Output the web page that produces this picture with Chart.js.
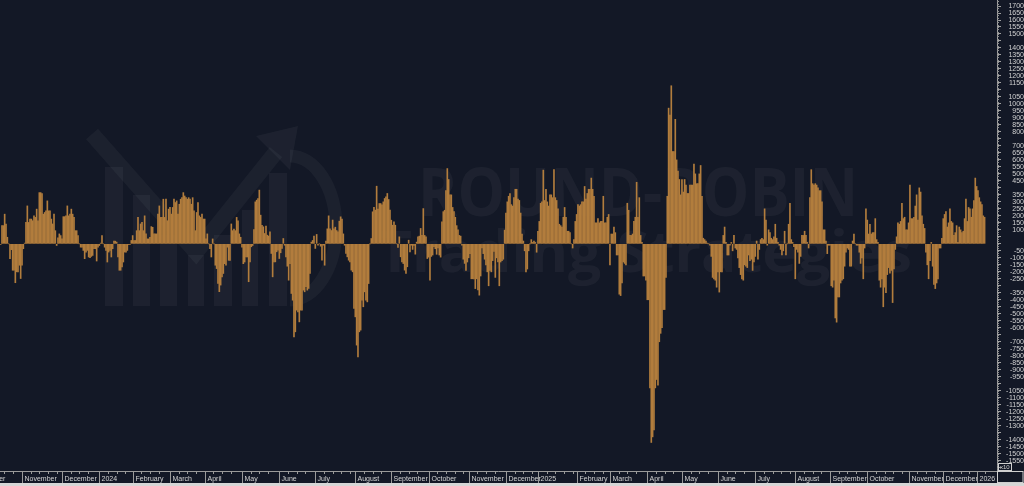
<!DOCTYPE html>
<html lang="en">
<head>
<meta charset="UTF-8" />
<title>Oscillator</title>
<script src="https://cdn.jsdelivr.net/npm/chart.js"></script>
<style>
	html, body { margin: 0; padding: 0; background: #131826; overflow: hidden; }
	canvas { display: block; }
</style>
</head>
<body>
<canvas id="chart" width="1024" height="486"></canvas>
<script>
// daily values, read left to right off the picture (Oct 2023 .. Jan 2026)
const part1 = [
	-5, 130, 130, 212, 142, 47, 0, -106, -42, -189,
	-189, -278, -200, -200, -153, -248, -153, -35, 5, 153,
	271, 153, 177, 177, 165, 200, 189, 248, 165, 366,
	366, 359, 212, 224, 236, 307, 236, 236, 177, 142,
	212, 94, -12, 42, 71, 59, 35, 194, 194, 200,
	271, 200, 212, 248, 212, 189, 94, 94, 59, 0,
	-24, -24, -47, -106, -59, -47, -94, -99, -90, -83,
	-35, -35, -123, -24, -12, 5, 59, 0, -24, -47,
	-130, -59, -47, -94, -35, 19, 19, 12, -94, -189,
	-189, -165, -130, -59, -59, -47, -5, -5, 24, 59,
	24, 24, 94, 189, 94, 142, 153, 94, 200, 71,
	35, 35, 47, 123, 118, 71, 71, 71, 212, 271,
	189, 189, 319, 189, 319, 165, 248, 260, 212, 260,
	319, 295, 307, 212, 283, 319, 330, 366, 342, 330,
	319, 330, 319, 283, 330, 236, 94, 224, 295, 200,
	189, 212, 177, 177, 35, 71, 0, -35, -94, 35,
	0, -153, -177, -283, -342, -295, -236, -212, -142, -153,
	-24, -118, -118, 142, 94, 106, 94, 189, 165, 71,
	47, -24, -142, -130, -94, -94, -271, -130
];
const part2 = [
	-21, -12, 102, 300, 312, 324, 384, 205, 133, 122,
	74, 126, 62, 55, 86, -69, -236, -129, -129, -57,
	-45, -105, -64, -33, 38, -10, -93, -160, -260, -141,
	-355, -403, -665, -629, -474, -486, -558, -474, -474, -331,
	-343, -307, -331, -319, -212, 12, 24, 55, -33, 67,
	-10, 0, -17, -117, -10, -153, 19, 107, 200, 107,
	95, 170, 107, 119, 95, 86, 162, 193, 176, 71,
	-10, -69, -93, -117, -129, -188, -200, -462, -522, -724,
	-808, -629, -617, -403, -450, -343, -403, -415, -284, 0,
	38, 229, 260, 241, 412, 248, 288, 288, 279, 300,
	324, 336, 360, 317, 241, 169, 133, 157, 133, 0,
	-26, 50, -93, -129, -141, -188, -212, -164
];
const part3 = [
	26, -57, -10, -40, -12, -74, 12, 50, 55, 110,
	60, 252, 60, 50, -105, -95, -260, -90, -80, -20,
	-35, -75, -30, -80, -95, 157, 230, 240, 380, 538,
	460, 350, 350, 260, 230, 190, 130, 100, 60, 55,
	-10, -110, -140, -190, -130, -100, -70, -250, -250, -250,
	-320, -250, -330, -367, -230, -30, -70, -110, -150, -200,
	-300, -190, -200, -120, -55, -240, -100, -130, -300, -130,
	-120, -110, 98, 220, 300, 340, 360, 280, 270, 330,
	390, 390, 320, 310, 220, 70, 20, -50, -200, -180,
	-50, 0, 30, 10, 20, 10, -60, 90, 160, 290,
	300, 527, 310, 390, 300, 270, 350, 350, 330, 530,
	330, 310, 250, 140, 130, 120, 190, 260, 190, 90,
	90, 80, 0, -30
];
const part4 = [
	30, 160, 210, 280, 270, 280, 300, 300, 410, 320,
	360, 390, 390, 470, 390, 340, 150, 150, 180, 150,
	160, 160, 340, 150, 150, 190, 210, -150, 70, 70,
	120, 80, -80, -80, -360, -370, -280, -130, -140, -150,
	290, 240, 60, 60, 70, 160, 190, 440, 190, 330,
	60, 10, -230, -230, -260, -400, -400, -1030, -1420, -1380,
	-1330, -1030, -970, -1010, -700, -640, -600, -470, -470, -240,
	340, 970, 920, 1130, 660, 660, 890, 600, 520, 460,
	350, 460, 370, 460, 420, 360, 360, 420, 420, 420,
	570, 500, 430, 430, 500, 560, 340, 40, 30, 20,
	5, 0, -10, -90, -240, -250, -260, -310, -200
];
const part5 = [
	-345, -200, -200, 60, 120, 10, -80, -80, -10, 10,
	-50, 60, -30, -40, -100, -170, -220, -250, -260, -150,
	-160, -170, -80, -120, -110, -190, -130, -90, 20, -110,
	-40, 30, 40, 30, 250, 170, -10, 100, 80, 40,
	30, 50, 140, 40, 10, -10, -40, -80, -50, 90,
	-80, 0, 140, 290, 30, 10, -20, -250, -40, -60,
	-140, -90, 60, 60, 90, 60, 10, -30, 330, 530,
	430, 420, 430, 420, 400, 380, 380, 300, 100, 100,
	20, -70, -10, -10, -300, -310, -260, -530, -560, -380,
	-380, -280, -260, -250, -160, -60, -30, -40, -160, -160,
	20
];
const part6 = [
	70, 0, -10, -10, -60, -140, -100, -250, -30, 250,
	170, 70, 140, 70, 80, 80, 180, 30, 10, -260,
	-310, -250, -450, -310, -350, -220, -170, -210, -190, -420,
	-180, -40, 50, 150, 140, 160, 290, 180, 190, 100,
	100, 150, 420, 180, 180, 190, 270, 350, 170, 400,
	370, 200, 140, 110, -60, -150, -250, -120, 10, -160,
	-290, -320, -280, -250, -30, -30, 40, 180, 210, 230,
	120, 150, 250, 160, 150, 60, 80, 130, 10, 120,
	100, 80, 90, 180, 320, 160, 260, 250, 190, 250,
	310, 470, 410, 380, 330, 300, 280, 200, 190
];
const values = [].concat(part1, part2, part3, part4, part5, part6);

// month labels on the bottom axis and the bar index where each one starts
const monthNames = ["October", "November", "December", "2024", "February", "March", "April", "May", "June", "July", "August", "September", "October", "November", "December", "2025", "February", "March", "April", "May", "June", "July", "August", "September", "October", "November", "December", "2026"];
const monthStart = [-17, 16, 46, 74, 99, 127, 153, 181, 209, 236, 266, 293, 321, 351, 379, 403, 432, 457, 485, 511, 538, 566, 596, 622, 650, 681, 707, 732];

// price axis labels that are printed (the others only get a tick)
const yLabels = [1700, 1650, 1600, 1550, 1500, 1400, 1350, 1300, 1250, 1200, 1150, 1050, 1000, 950, 900, 850, 800, 700, 650, 600, 550, 500, 450, 350, 300, 250, 200, 150, 100,
	-50, -100, -150, -200, -250, -350, -400, -450, -500, -550, -600, -700, -750, -800, -850, -900, -950, -1050, -1100, -1150, -1200, -1250, -1300, -1400, -1450, -1500, -1550];

const BG = "#131826";
const FONT = '"Liberation Sans", Arial, sans-serif';

function fitText(ctx, text, font, x0, x1, base) {
	ctx.font = font;
	const w = ctx.measureText(text).width;
	ctx.save();
	ctx.translate(x0, base);
	ctx.scale((x1 - x0) / w, 1);
	ctx.fillText(text, 0, 0);
	ctx.restore();
}

const watermark = {
	id: "watermark",
	beforeDatasetsDraw(chart) {
		const ctx = chart.ctx;
		ctx.save();
		ctx.fillStyle = "rgba(255,255,255,0.042)";
		fitText(ctx, "ROUND-ROBIN", 'bold 66px "Open Sans"', 418, 858, 216);
		fitText(ctx, "Trading Strategies", 'bold 58px "Open Sans"', 378, 912, 272);
		// logo: bars, rising arrow and the curved stroke
		[[105, 167, 18, 139], [133, 195, 17, 111], [160, 235, 17, 71], [188, 255, 16, 51],
		 [214, 235, 18, 71], [242, 210, 16, 96], [269, 173, 18, 133]].forEach(r => ctx.fillRect(r[0], r[1], r[2], r[3]));
		ctx.strokeStyle = "rgba(255,255,255,0.04)";
		ctx.lineWidth = 16;
		ctx.beginPath();
		ctx.moveTo(92, 134);
		ctx.lineTo(196, 252);
		ctx.lineTo(276, 152);
		ctx.stroke();
		ctx.beginPath();
		ctx.moveTo(298, 126);
		ctx.lineTo(256, 136);
		ctx.lineTo(290, 170);
		ctx.closePath();
		ctx.fill();
		ctx.lineWidth = 13;
		ctx.beginPath();
		ctx.ellipse(290, 228, 46, 72, 0, -Math.PI / 2, Math.PI / 2);
		ctx.stroke();
		ctx.restore();
	}
};

const axisPlugin = {
	id: "axisPlugin",
	afterDraw(chart) {
		const { ctx, chartArea: a, scales: { x, y } } = chart;
		const top = a.bottom;
		ctx.save();
		// minor ruler marks on the price axis
		ctx.strokeStyle = "#8e8e8e";
		ctx.lineWidth = 1;
		ctx.beginPath();
		for (let v = -1600; v <= 1740; v += 50 / 3) {
			const py = Math.round(y.getPixelForValue(v)) + 0.5;
			if (py > top) continue;
			ctx.moveTo(y.left, py);
			ctx.lineTo(y.left + 2, py);
		}
		ctx.stroke();

		// date axis strip
		ctx.fillStyle = BG;
		ctx.fillRect(0, top, chart.width, 12);
		ctx.fillStyle = "#d6d6d6";
		ctx.fillRect(0, top + 12, chart.width, chart.height - top - 12);
		ctx.strokeStyle = "#9a9a9a";
		ctx.beginPath();
		ctx.moveTo(0, top + 0.5);
		ctx.lineTo(a.right, top + 0.5);
		ctx.stroke();

		ctx.font = "7px " + FONT;
		ctx.fillStyle = "#d2d2d2";
		ctx.textBaseline = "alphabetic";
		ctx.beginPath();
		ctx.rect(0, top, a.right, 12);
		ctx.clip();
		monthStart.forEach((m, k) => {
			const px = Math.round(x.getPixelForValue(m)) + 0.5;
			const next = k + 1 < monthStart.length ? monthStart[k + 1] : 747;
			ctx.beginPath();
			ctx.moveTo(px, top);
			ctx.lineTo(px, top + 12);
			for (let w = m + 6.5; w < next - 2; w += 6.5) {
				const wx = Math.round(x.getPixelForValue(w)) + 0.5;
				ctx.moveTo(wx, top);
				ctx.lineTo(wx, top + 3);
			}
			ctx.stroke();
			ctx.fillText(monthNames[k], px + 2, top + 10);
		});
		ctx.restore();

		// corner boxes
		ctx.save();
		ctx.fillStyle = BG;
		ctx.fillRect(a.right, top, chart.width - a.right, 12);
		ctx.strokeStyle = "#cfcfcf";
		ctx.strokeRect(a.right + 0.5, top + 0.5, chart.width - a.right - 1.5, 11);
		ctx.strokeRect(a.right + 1.5, top - 7.5, 13, 7);
		ctx.font = "6px " + FONT;
		ctx.fillStyle = "#d2d2d2";
		ctx.fillText("x10", a.right + 3, top - 2);
		ctx.restore();
	}
};

new Chart(document.getElementById("chart"), {
	type: "bar",
	data: {
		datasets: [
			{
				data: values.map((v, i) => ({ x: i, y: v })),
				backgroundColor: "#b27d3d",
				borderWidth: 0,
				barThickness: 1,
			},
		],
	},
	options: {
		responsive: false,
		animation: false,
		layout: { padding: { left: 0, right: 0, top: 0, bottom: 15 } },
		plugins: {
			legend: { display: false },
			tooltip: { enabled: false },
		},
		scales: {
			x: { type: "linear", display: false, offset: false, grid: { offset: false }, min: -0.5, max: 747.3 },
			y: {
				position: "right",
				min: -1624,
				max: 1743,
				afterBuildTicks(s) {
					const t = [];
					for (let v = -1600; v <= 1700; v += 50) t.push({ value: v });
					s.ticks = t;
				},
				afterFit(s) {
					s.width = 27;
					s.paddingTop = 0;
					s.paddingBottom = 0;
				},
				ticks: {
					autoSkip: false,
					crossAlign: "far",
					padding: 3,
					color: "#d2d2d2",
					font: { family: FONT, size: 7 },
					callback: (v) => (yLabels.includes(v) ? String(v) : ""),
				},
				grid: { drawOnChartArea: false, drawTicks: true, tickLength: 4, color: "#a0a0a0" },
				border: { display: true, color: "#a0a0a0" },
			},
		},
	},
	plugins: [watermark, axisPlugin],
});
</script>
</body>
</html>
